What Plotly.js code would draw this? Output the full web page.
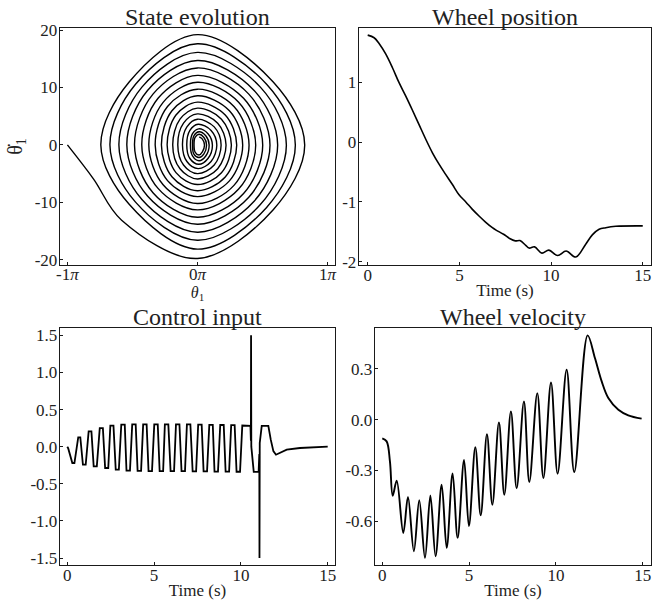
<!DOCTYPE html>
<html>
<head>
<meta charset="utf-8">
<script src="https://cdn.plot.ly/plotly-3.0.1.min.js"></script>
<style>html,body{margin:0;padding:0;background:#fff;}#chart{width:670px;height:606px;}</style>
</head>
<body>
<div id="chart"></div>
<script>
// ---------- Data: State evolution (theta in units of pi, theta-dot) ----------
const thetaPi = [
  -1.0, -0.8, -0.583,
  0, 0.583, 0.825, 0.583, 0, -0.525, -0.743, -0.525,
  0, 0.532, 0.753, 0.532, 0, -0.476, -0.673, -0.476,
  0, 0.484, 0.684, 0.484, 0, -0.427, -0.604, -0.427,
  0, 0.436, 0.617, 0.436, 0, -0.384, -0.543, -0.384,
  0, 0.395, 0.558, 0.395, 0, -0.342, -0.484, -0.342,
  0, 0.355, 0.502, 0.355, 0, -0.303, -0.428, -0.303,
  0, 0.317, 0.448, 0.317, 0, -0.264, -0.374, -0.264,
  0, 0.281, 0.397, 0.281, 0, -0.230, -0.325, -0.230,
  0, 0.246, 0.348, 0.246, 0, -0.196, -0.277, -0.196,
  0, 0.214, 0.302, 0.214, 0, -0.165, -0.233, -0.165,
  0, 0.185, 0.261, 0.185, 0, -0.134, -0.190, -0.134,
  0, 0.156, 0.220, 0.156, 0, -0.107, -0.151, -0.107,
  0, 0.129, 0.182, 0.129, 0, -0.081, -0.115, -0.081,
  0.005, 0.105, 0.149, 0.105, 0.005, -0.058, -0.082, -0.058,
  0.01, 0.081, 0.115, 0.081, 0.01, -0.038, -0.054, -0.038,
  0.012, 0.064, 0.090, 0.064, 0.012, -0.027, -0.038, -0.027,
  0.012, 0.050, 0.070, 0.050, 0.012, -0.018, -0.026, -0.018,
  0.012, 0.038, 0.054, 0.038, 0.014
];
const thetaDot = [
  0, -5.9, -13.1,
  -19.77, -11.27, 0, 10.94, 19.19, 10.94, 0, -10.34,
  -18.14, -10.88, 0, 10.56, 17.6, 10.56, 0, -9.96,
  -16.6, -10.38, 0, 10.06, 16.1, 10.06, 0, -9.5,
  -15.2, -9.8, 0, 9.48, 14.7, 9.48, 0, -8.9,
  -13.8, -9.11, 0, 8.84, 13.4, 8.84, 0, -8.32,
  -12.6, -8.44, 0, 8.11, 12.1, 8.11, 0, -7.57,
  -11.3, -7.68, 0, 7.41, 10.9, 7.41, 0, -6.94,
  -10.2, -7.04, 0, 6.69, 9.7, 6.69, 0, -6.21,
  -9.0, -6.26, 0, 5.94, 8.55, 5.94, 0, -5.54,
  -7.97, -5.58, 0, 5.21, 7.44, 5.21, 0, -4.83,
  -6.9, -4.83, 0, 4.48, 6.4, 4.48, 0, -4.15,
  -5.93, -4.15, 0, 3.78, 5.4, 3.78, 0, -3.5,
  -5.0, -3.5, 0, 3.14, 4.48, 3.14, 0, -2.89,
  -4.13, -2.89, 0, 2.52, 3.6, 2.52, 0, -2.36,
  -3.37, -2.36, 0, 1.96, 2.8, 1.96, 0, -1.9,
  -2.75, -1.93, 0, 1.6, 2.3, 1.6, 0, -1.6,
  -2.2, -1.55, 0, 1.3, 1.85, 1.3, 0, -1.25,
  -1.75, -1.2, 0, 1.0, 1.4
];

// ---------- Data: Wheel position ----------
const tPos = [0, 0.35, 0.62, 0.98, 1.35, 1.71, 2.07, 2.44, 2.8, 3.16, 3.53, 3.89, 4.25, 4.62, 4.98, 5.35, 5.71, 6.07, 6.44, 6.8, 7.0, 7.41, 7.74, 8.05, 8.3, 8.62, 8.8, 9.1, 9.5, 9.88, 10.36, 10.82, 11.35, 11.89, 12.25, 12.62, 12.98, 13.53, 15.0];
const wheelPos = [1.784, 1.74, 1.645, 1.47, 1.24, 0.99, 0.77, 0.53, 0.29, 0.05, -0.18, -0.37, -0.54, -0.71, -0.88, -1.0, -1.125, -1.235, -1.34, -1.43, -1.47, -1.54, -1.61, -1.65, -1.645, -1.725, -1.77, -1.75, -1.855, -1.805, -1.895, -1.82, -1.92, -1.706, -1.55, -1.457, -1.43, -1.407, -1.40];

// ---------- Data: Control input ----------
const tCtrl = [0, 0.05, 0.29, 0.41, 0.63, 0.75, 0.9, 1.06, 1.23, 1.39, 1.52, 1.70, 1.87, 2.05, 2.18, 2.36, 2.48, 2.66, 2.79, 2.97,
  3.11, 3.31, 3.41, 3.61, 3.74, 3.94, 4.05, 4.25, 4.37, 4.57, 4.68, 4.88, 5.01, 5.21, 5.32, 5.52, 5.62, 5.82, 5.95, 6.15,
  6.26, 6.46, 6.58, 6.78, 6.89, 7.09, 7.22, 7.42, 7.54, 7.74, 7.85, 8.05, 8.18, 8.38, 8.48, 8.68, 8.81, 9.01, 9.12, 9.32,
  9.44, 9.64, 9.75, 9.95, 10.08, 10.55, 10.575, 10.585, 10.60, 10.74, 11.02, 11.06, 11.07, 11.085, 11.2, 11.58, 11.72, 11.87, 12.02, 12.3, 12.64, 13.4, 14.2, 15.0];
const uCtrl = [0, -0.02, -0.22, -0.22, 0.125, 0.125, -0.243, -0.243, 0.207, 0.207, -0.265, -0.265, 0.25, 0.25, -0.287, -0.287, 0.283, 0.283, -0.31, -0.31,
  0.296, 0.296, -0.323, -0.323, 0.3, 0.3, -0.325, -0.325, 0.3, 0.3, -0.328, -0.328, 0.3, 0.3, -0.33, -0.33, 0.3, 0.3, -0.33, -0.33,
  0.3, 0.3, -0.33, -0.33, 0.3, 0.3, -0.332, -0.332, 0.298, 0.298, -0.333, -0.333, 0.295, 0.295, -0.335, -0.335, 0.292, 0.292, -0.337, -0.337,
  0.29, 0.29, -0.338, -0.338, 0.285, 0.28, 0.08, 1.5, 0.0, -0.34, -0.34, -0.1, -1.5, 0.05, 0.28, 0.28, 0.095, -0.06, -0.108, -0.075, -0.04, -0.018, -0.005, 0];

// ---------- Data: Wheel velocity ----------
const tVel = [0, 0.25, 0.44, 0.60, 0.83, 1.21, 1.48, 1.82, 2.13, 2.46, 2.77, 3.07, 3.42, 3.71, 4.05, 4.34, 4.71, 4.99, 5.36, 5.67, 6.03, 6.34, 6.72, 7.03, 7.41, 7.74, 8.16, 8.47, 8.93, 9.28, 9.72, 10.10, 10.62, 11.06, 11.83, 12.25, 12.64, 13.02, 13.60, 14.17, 14.94];
const wheelVel = [-0.11, -0.128, -0.246, -0.449, -0.36, -0.669, -0.456, -0.777, -0.476, -0.816, -0.447, -0.807, -0.384, -0.757, -0.317, -0.698, -0.238, -0.628, -0.163, -0.565, -0.085, -0.502, -0.016, -0.443, 0.049, -0.405, 0.108, -0.368, 0.157, -0.344, 0.22, -0.319, 0.295, -0.309, 0.498, 0.364, 0.226, 0.128, 0.059, 0.026, 0.006];

// ---------- Tick labels ----------
const thetaTickVals = [-1, 0, 1];
const thetaTickText = ['-1<i>π</i>', '0<i>π</i>', '1<i>π</i>'];
const dotTickVals = [-20, -10, 0, 10, 20];
const dotTickText = ['-20', '-10', '0', '10', '20'];
const timeTickVals = [0, 5, 10, 15];
const timeTickText = ['0', '5', '10', '15'];
const posTickVals = [-2, -1, 0, 1];
const posTickText = ['-2', '-1', '0', '1'];
const ctrlTickVals = [-1.5, -1.0, -0.5, 0, 0.5, 1.0, 1.5];
const ctrlTickText = ['-1.5', '-1.0', '-0.5', '0.0', '0.5', '1.0', '1.5'];
const velTickVals = [-0.6, -0.3, 0, 0.3];
const velTickText = ['-0.6', '-0.3', '0.0', '0.3'];

const W = 670, H = 606;
const FONT = '"Liberation Serif", "DejaVu Serif", serif';
const TXT = '#222';
function xd(a, b) { return [a / W, b / W]; }
function yd(top, bot) { return [1 - bot / H, 1 - top / H]; }

function ax(extra) {
  return Object.assign({
    showline: true, mirror: true, linecolor: '#1a1a1a', linewidth: 1.3,
    ticks: 'inside', ticklen: 3, tickwidth: 1, tickcolor: '#1a1a1a',
    showgrid: false, zeroline: false, tickmode: 'array',
    tickfont: { family: FONT, size: 17, color: TXT },
    fixedrange: true
  }, extra);
}

const traces = [
  { x: thetaPi, y: thetaDot, xaxis: 'x', yaxis: 'y', mode: 'lines', line: { color: '#000', width: 1.4, shape: 'spline', smoothing: 1 }, hoverinfo: 'skip' },
  { x: tPos, y: wheelPos, xaxis: 'x2', yaxis: 'y2', mode: 'lines', line: { color: '#000', width: 1.6, shape: 'spline', smoothing: 1 }, hoverinfo: 'skip' },
  { x: tCtrl, y: uCtrl, xaxis: 'x3', yaxis: 'y3', mode: 'lines', line: { color: '#000', width: 1.8, shape: 'linear' }, hoverinfo: 'skip' },
  { x: tVel, y: wheelVel, xaxis: 'x4', yaxis: 'y4', mode: 'lines', line: { color: '#000', width: 1.9, shape: 'spline', smoothing: 1 }, hoverinfo: 'skip' }
];

const titleFont = { family: FONT, size: 24, color: TXT };
function panelTitle(text, x0, x1, top) {
  return { text: text, xref: 'paper', yref: 'paper', x: (x0 + x1) / 2 / W, y: 1 - top / H,
    xanchor: 'center', yanchor: 'bottom', showarrow: false, font: titleFont, yshift: -4 };
}
const axTitleFont = { family: FONT, size: 17, color: TXT };

const layout = {
  width: W, height: H,
  margin: { l: 0, r: 0, t: 0, b: 0 },
  paper_bgcolor: '#fff', plot_bgcolor: '#fff',
  showlegend: false,
  font: { family: FONT, color: TXT },
  xaxis: ax({ domain: xd(60, 335), range: [-1.057, 1.058], tickvals: thetaTickVals, ticktext: thetaTickText, anchor: 'y', ticklabelstandoff: -7,
    title: { text: '<i>θ</i><sub>1</sub>', font: { family: FONT, size: 16, color: TXT }, standoff: 0 } }),
  yaxis: ax({ domain: yd(28, 265), range: [-20.9, 20.35], tickvals: dotTickVals, ticktext: dotTickText, anchor: 'x', ticklabelstandoff: -2,
    title: { text: 'θ\u0307<sub>1</sub>', font: { family: FONT, size: 20, color: TXT }, standoff: 6 } }),
  xaxis2: ax({ domain: xd(359, 651), range: [-0.475, 15.45], tickvals: timeTickVals, ticktext: timeTickText, anchor: 'y2', ticklabelstandoff: -6,
    title: { text: 'Time (s)', font: axTitleFont, standoff: 0 } }),
  yaxis2: ax({ domain: yd(28, 265), range: [-2.053, 1.903], tickvals: posTickVals, ticktext: posTickText, anchor: 'x2', ticklabelstandoff: -2 }),
  xaxis3: ax({ domain: xd(60, 335), range: [-0.42, 15.42], tickvals: timeTickVals, ticktext: timeTickText, anchor: 'y3', ticklabelstandoff: -6,
    title: { text: 'Time (s)', font: axTitleFont, standoff: 0 } }),
  yaxis3: ax({ domain: yd(328, 565), range: [-1.594, 1.599], tickvals: ctrlTickVals, ticktext: ctrlTickText, anchor: 'x3', ticklabelstandoff: -2 }),
  xaxis4: ax({ domain: xd(375, 651), range: [-0.42, 15.48], tickvals: timeTickVals, ticktext: timeTickText, anchor: 'y4', ticklabelstandoff: -6,
    title: { text: 'Time (s)', font: axTitleFont, standoff: 0 } }),
  yaxis4: ax({ domain: yd(328, 565), range: [-0.858, 0.5415], tickvals: velTickVals, ticktext: velTickText, anchor: 'x4', ticklabelstandoff: -2 }),
  annotations: [
    panelTitle('State evolution', 60, 335, 28),
    panelTitle('Wheel position', 359, 651, 28),
    panelTitle('Control input', 60, 335, 328),
    panelTitle('Wheel velocity', 375, 651, 328)
  ]
};

Plotly.newPlot('chart', traces, layout, { displayModeBar: false, staticPlot: true });
</script>
</body>
</html>
